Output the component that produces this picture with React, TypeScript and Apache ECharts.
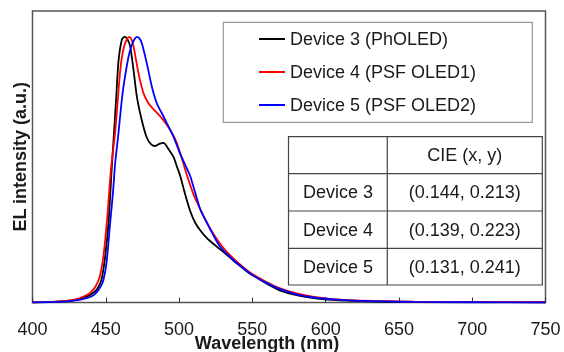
import React, { useEffect, useRef } from "react";
import * as echarts from "echarts";

// ---- data ----
const xMin = 400;
const xMax = 750;
const xStep = 50;

const seriesNames = ["Device 3 (PhOLED)", "Device 4 (PSF OLED1)", "Device 5 (PSF OLED2)"];

const device3Wl = [400, 415, 425, 432, 437, 441, 444, 447, 449.5, 452, 454, 455.5, 457, 458.7, 461, 462.8, 464.5, 466.6, 468.9, 471.2, 474.6, 478, 481, 483.7, 487, 489.4, 492.8, 496.2, 498.5, 500.8, 504, 507.5, 511, 514.4, 519, 523.5, 528, 532, 537, 541.7, 548, 555, 562, 569, 580, 592, 605, 615, 630, 650, 680, 710, 750];
const device3I = [0, 0.002, 0.006, 0.013, 0.022, 0.035, 0.05, 0.085, 0.17, 0.31, 0.5, 0.63, 0.76, 0.91, 0.99, 1.0, 0.993, 0.965, 0.876, 0.775, 0.685, 0.62, 0.595, 0.589, 0.598, 0.601, 0.577, 0.548, 0.512, 0.476, 0.41, 0.345, 0.3, 0.272, 0.242, 0.22, 0.2, 0.182, 0.158, 0.137, 0.11, 0.087, 0.064, 0.045, 0.028, 0.017, 0.01, 0.007, 0.004, 0.002, 0.001, 0.0005, 0];

const device4Wl = [400, 415, 425, 432, 437, 440, 443, 446, 448.5, 451, 453.5, 456.4, 458, 459.9, 461.5, 463.2, 466, 467.5, 469, 472.3, 475.7, 479.1, 482.5, 488.2, 493.9, 498.5, 502, 505.3, 510, 514.4, 519, 523.5, 530, 537, 544, 550.8, 560, 569, 580, 592, 605, 620, 640, 660, 700, 750];
const device4I = [0, 0.003, 0.008, 0.016, 0.028, 0.04, 0.06, 0.1, 0.18, 0.32, 0.5, 0.64, 0.75, 0.876, 0.94, 0.976, 1.0, 0.99, 0.963, 0.863, 0.788, 0.75, 0.728, 0.694, 0.65, 0.6, 0.54, 0.48, 0.405, 0.352, 0.3, 0.258, 0.207, 0.166, 0.132, 0.104, 0.076, 0.053, 0.034, 0.021, 0.013, 0.008, 0.005, 0.003, 0.002, 0.001];

const device5Wl = [400, 415, 425, 432, 437, 441, 444, 446.5, 448.4, 450.5, 453, 455, 456.4, 458.7, 460.5, 462.1, 465.5, 467.8, 469.5, 471.2, 472.8, 474.6, 478, 481.4, 484.8, 489.4, 493, 496.2, 500, 504, 507.6, 514.4, 519, 523.5, 528, 537, 546, 550.8, 560, 569, 580, 592, 605, 620, 640, 660, 700, 750];
const device5I = [0, 0.002, 0.005, 0.01, 0.016, 0.025, 0.04, 0.06, 0.085, 0.15, 0.3, 0.42, 0.525, 0.64, 0.74, 0.813, 0.925, 0.97, 0.99, 1.0, 0.995, 0.976, 0.9, 0.813, 0.75, 0.7, 0.66, 0.624, 0.57, 0.52, 0.476, 0.351, 0.3, 0.252, 0.21, 0.16, 0.12, 0.101, 0.073, 0.05, 0.031, 0.019, 0.012, 0.007, 0.004, 0.002, 0.001, 0];

const tableHeader = ["", "CIE (x, y)"];
const tableDevices = ["Device 3", "Device 4", "Device 5"];
const tableCie = ["(0.144, 0.213)", "(0.139, 0.223)", "(0.131, 0.241)"];

const xAxisTitle = "Wavelength (nm)";
const yAxisTitle = "EL intensity (a.u.)";

// ---- styles / layout ----
const FONT = "'Liberation Sans', Arial, sans-serif";
const TEXT = "#1a1a1a";
const colors = ["#000000", "#ff0000", "#0000ff"];

const zip = (a: number[], b: number[]) => a.map((v, i) => [v, b[i]]);

export default function App() {
  const ref = useRef<HTMLDivElement>(null);
  useEffect(() => {
    if (!ref.current) return;
    const chart = echarts.init(ref.current, null, { renderer: "svg" });

    // table layout
    const tL = 288.5, tR = 542.3, tT = 136.7, colX = 387.3;
    const rowYs = [136.7, 173.7, 211, 248.3, 285];
    const lineStyle = { stroke: "#444", lineWidth: 1.2 };
    const tableEls: any[] = [
      { type: "rect", shape: { x: tL, y: tT, width: tR - tL, height: rowYs[4] - tT }, style: { fill: "#fff", stroke: "#444", lineWidth: 1.2 }, z: 10 },
      { type: "line", shape: { x1: colX, y1: tT, x2: colX, y2: rowYs[4] }, style: lineStyle, z: 11 },
    ];
    for (let i = 1; i < 4; i++) {
      tableEls.push({ type: "line", shape: { x1: tL, y1: rowYs[i], x2: tR, y2: rowYs[i] }, style: lineStyle, z: 11 });
    }
    const cellText = (txt: string, cx: number, cy: number) => ({
      type: "text", x: cx, y: cy, z: 12,
      style: { text: txt, fontSize: 18, fontFamily: FONT, fill: TEXT, align: "center", verticalAlign: "middle" },
    });
    tableEls.push(cellText(tableHeader[1], (colX + tR) / 2, (rowYs[0] + rowYs[1]) / 2));
    tableDevices.forEach((d, i) => {
      const cy = (rowYs[i + 1] + rowYs[i + 2]) / 2;
      tableEls.push(cellText(d, (tL + colX) / 2, cy));
      tableEls.push(cellText(tableCie[i], (colX + tR) / 2, cy));
    });

    const data = [zip(device3Wl, device3I), zip(device4Wl, device4I), zip(device5Wl, device5I)];

    chart.setOption({
      animation: false,
      grid: {
        left: 32.5, right: 18.5, top: 11, bottom: 49.5,
        outerBoundsMode: "none",
        containLabel: false,
        show: true, borderColor: "#555", borderWidth: 1.5, backgroundColor: "transparent",
      },
      legend: {
        orient: "vertical", left: 259, top: 29, padding: 0,
        icon: "rect",
        itemWidth: 26, itemHeight: 2, itemGap: 13,
        textStyle: { fontSize: 18, fontFamily: FONT, color: TEXT, lineHeight: 20 },
        data: seriesNames,
      },
      xAxis: {
        type: "value", min: xMin, max: xMax, interval: xStep,
        axisLine: { show: false },
        axisTick: { show: true, inside: true, length: 5, lineStyle: { color: "#333", width: 1 } },
        axisLabel: { fontSize: 18, fontFamily: FONT, color: TEXT, margin: 17 },
        splitLine: { show: false },
        name: xAxisTitle, nameLocation: "middle", nameGap: 31,
        nameMoveOverlap: false,
        nameTextStyle: { fontSize: 18, fontWeight: "bold", fontFamily: FONT, color: TEXT, padding: [0, 44, 0, 0] },
      },
      yAxis: {
        type: "value", min: 0, max: 1.097,
        axisLine: { show: false }, axisTick: { show: false }, axisLabel: { show: false },
        splitLine: { show: false },
        name: yAxisTitle, nameLocation: "middle", nameGap: 4,
        nameMoveOverlap: false,
        nameTextStyle: { fontSize: 18, fontWeight: "bold", fontFamily: FONT, color: TEXT },
      },
      series: seriesNames.map((n, i) => ({
        name: n, type: "line", data: data[i], symbol: "none", showSymbol: false,
        smooth: 0.25,
        lineStyle: { color: colors[i], width: 1.8 },
        itemStyle: { color: colors[i] },
      })),
      graphic: [
        { type: "rect", shape: { x: 223.3, y: 22.3, width: 309, height: 100 }, style: { fill: "none", stroke: "#999", lineWidth: 1.2 }, z: 5 },
        ...tableEls,
      ],
    });
    return () => chart.dispose();
  }, []);
  return <div ref={ref} style={{ position: "fixed", left: 0, top: 0, width: 564, height: 352 }} />;
}
